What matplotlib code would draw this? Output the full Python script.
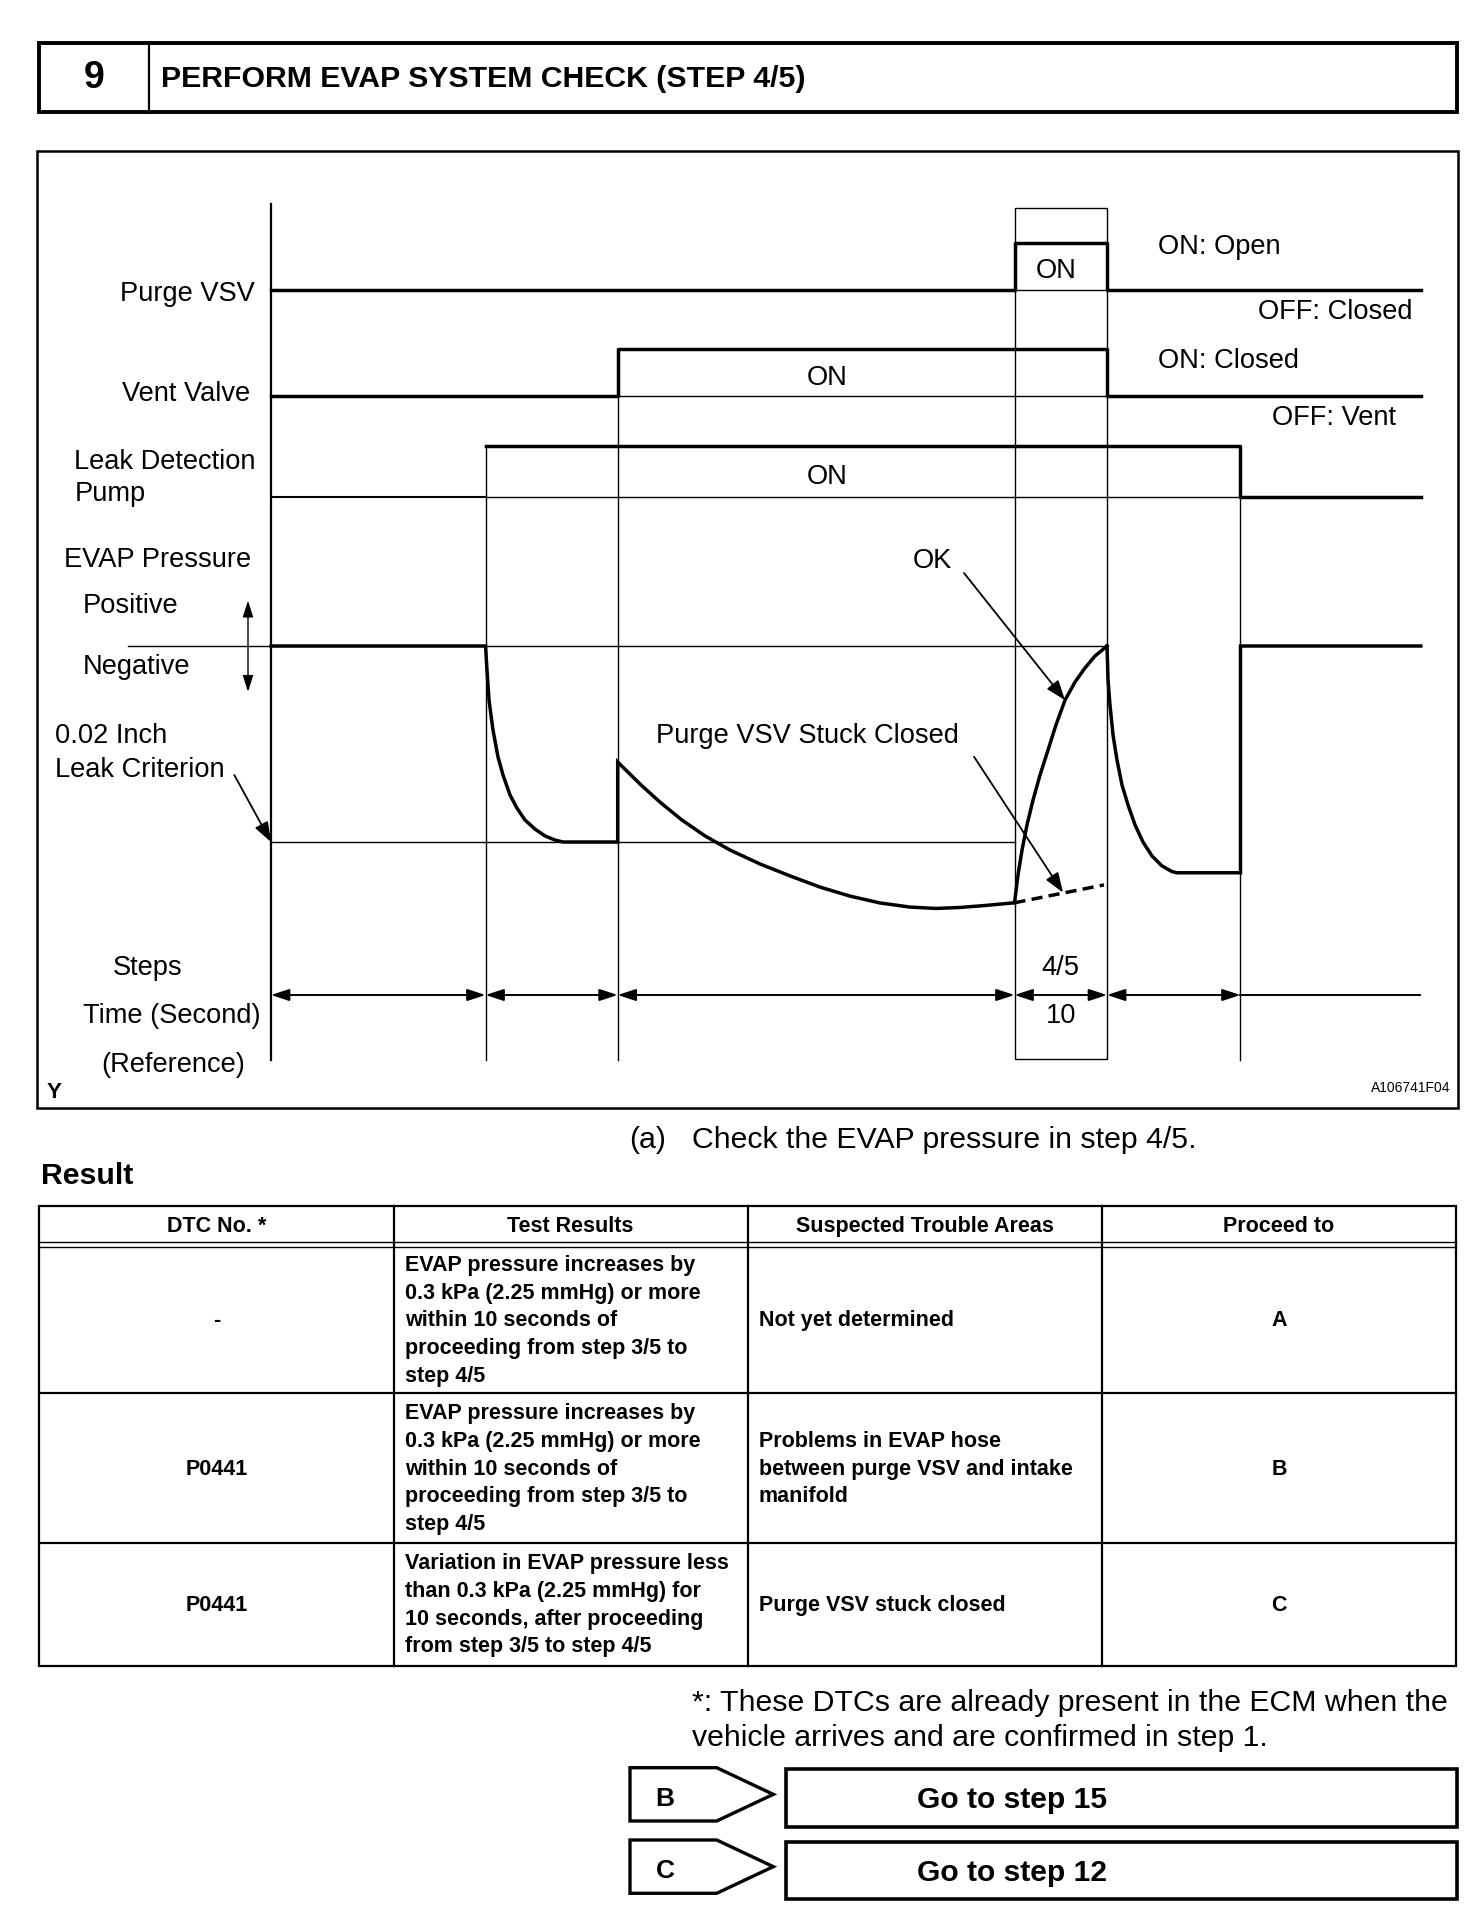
import matplotlib
matplotlib.use('Agg')
import matplotlib.pyplot as plt
from matplotlib.patches import Rectangle, Polygon

plt.rcParams['font.family'] = ['Liberation Sans', 'DejaVu Sans']

# ------------------------------------------------------------------ data
# step boundaries (seconds, reference time axis)
T_PUMP_ON = 23.19
T_VENT_CLOSE = 37.48
T_PURGE_ON = 80.38
T_PURGE_OFF = 90.38
T_PUMP_OFF = 104.81
T_END = 124.3

purge_times = [0, T_PURGE_ON, T_PURGE_OFF, T_END]
purge_states = [0, 1, 0, 0]
vent_times = [0, T_VENT_CLOSE, T_PURGE_OFF, T_END]
vent_states = [0, 1, 0, 0]
pump_times = [0, T_PUMP_ON, T_PUMP_OFF, T_END]
pump_states = [0, 1, 0, 0]

# EVAP pressure (relative units: 0 = atmospheric, -1 = 0.02 inch leak criterion)
evap_t = [0.0, 23.19, 23.35, 23.57, 24.0, 24.54, 25.08, 25.84, 26.59, 27.46, 28.54,
          29.62, 30.70, 31.57, 37.48, 37.48, 40.0, 42.16, 44.43, 46.92, 49.62, 52.86,
          56.11, 59.35, 62.59, 65.84, 69.08, 71.89, 74.49, 77.19, 80.38]
evap_p = [0.0, 0.0, -0.122, -0.276, -0.429, -0.566, -0.658, -0.760, -0.827, -0.888, -0.934,
          -0.969, -0.990, -1.0, -1.0, -0.592, -0.709, -0.801, -0.888, -0.969, -1.041, -1.112,
          -1.173, -1.230, -1.276, -1.311, -1.332, -1.339, -1.334, -1.324, -1.310]
ok_t = [80.38, 80.76, 81.19, 81.73, 82.38, 83.14, 84.0, 84.86, 85.84, 86.92, 88.0, 89.08, 90.38]
ok_p = [-1.310, -1.168, -1.041, -0.913, -0.786, -0.658, -0.531, -0.403, -0.276, -0.184,
        -0.112, -0.051, 0.0]
after_t = [90.38, 90.49, 90.70, 91.03, 91.46, 92.0, 92.65, 93.41, 94.27, 95.24, 96.32,
           97.41, 97.95, 104.81, 104.81, 124.3]
after_p = [0.0, -0.173, -0.301, -0.454, -0.582, -0.709, -0.811, -0.913, -1.0, -1.071,
           -1.122, -1.151, -1.157, -1.157, 0.0, 0.0]
stuck_t = [80.38, 90.05]
stuck_p = [-1.310, -1.219]
LEAK_CRITERION = -1.0

step_label = "4/5"
step_seconds = "10"

headers = ["DTC No. *", "Test Results", "Suspected Trouble Areas", "Proceed to"]
dtc = ["-", "P0441", "P0441"]
test_results = [
    ["EVAP pressure increases by", "0.3 kPa (2.25 mmHg) or more", "within 10 seconds of",
     "proceeding from step 3/5 to", "step 4/5"],
    ["EVAP pressure increases by", "0.3 kPa (2.25 mmHg) or more", "within 10 seconds of",
     "proceeding from step 3/5 to", "step 4/5"],
    ["Variation in EVAP pressure less", "than 0.3 kPa (2.25 mmHg) for",
     "10 seconds, after proceeding", "from step 3/5 to step 4/5"],
]
trouble_areas = [
    ["Not yet determined"],
    ["Problems in EVAP hose", "between purge VSV and intake", "manifold"],
    ["Purge VSV stuck closed"],
]
proceed = ["A", "B", "C"]
go_to = [("B", "Go to step 15"), ("C", "Go to step 12")]

# ------------------------------------------------------------------ layout
W, H = 1472, 1928
fig = plt.figure(figsize=(W / 100, H / 100), dpi=100)
L = fig.add_axes([0, 0, 1, 1])
L.set_xlim(0, W)
L.set_ylim(H, 0)
L.axis('off')

AX_X0 = 271.0
PX_PER_S = 9.25
pos = [AX_X0 / W, 0, T_END * PX_PER_S / W, 1]
ax_t = fig.add_axes(pos)
ax_t.set_xlim(0, T_END)
ax_t.set_ylim(H, 0)
ax_t.axis('off')
ax_t.patch.set_visible(False)

EZ, EU = 646.0, 196.0
ax_e = fig.add_axes(pos)
ax_e.set_xlim(0, T_END)
ax_e.set_ylim((EZ - H) / EU, EZ / EU)
ax_e.axis('off')
ax_e.patch.set_visible(False)

K = 'black'
THICK = 2.5
THIN = 1.0


def txt(x, bl, s, size, ha='left', weight='normal', ax=L):
    ax.text(x, bl, s, fontsize=size, ha=ha, va='baseline', fontweight=weight, color=K)


# header box
L.add_patch(Rectangle((38.5, 42.7), 1457 - 38.5, 111.7 - 42.7, fill=False, lw=2.8, ec=K))
L.plot([148.5, 148.5], [42.7, 111.7], color=K, lw=1.6)
txt(94, 88, "9", 27, ha='center', weight='bold')
txt(161, 87, "PERFORM EVAP SYSTEM CHECK (STEP 4/5)", 21.8, weight='bold')

# diagram frame
L.add_patch(Rectangle((36.9, 150.7), 1458 - 36.9, 1107.7 - 150.7, fill=False, lw=1.8, ec=K))

# digital signals
ROWS = {'purge': (290.0, 243.0), 'vent': (396.0, 349.0), 'pump': (497.0, 446.0)}


def levels(states, row):
    lo, hi = ROWS[row]
    return [lo - s * (lo - hi) for s in states]


ax_t.step(purge_times, levels(purge_states, 'purge'), where='post', color=K, lw=THICK, clip_on=False)
ax_t.step(vent_times, levels(vent_states, 'vent'), where='post', color=K, lw=THICK, clip_on=False)
pl = levels(pump_states, 'pump')
ax_t.plot(pump_times[:2], pl[:1] * 2, color=K, lw=1.5, clip_on=False)
ax_t.step(pump_times[1:], pl[1:], where='post', color=K, lw=THICK, clip_on=False)
# thin baselines while ON
ax_t.plot([T_PURGE_ON, T_PURGE_OFF], [ROWS['purge'][0]] * 2, color=K, lw=THIN)
ax_t.plot([T_VENT_CLOSE, T_PURGE_OFF], [ROWS['vent'][0]] * 2, color=K, lw=THIN)
ax_t.plot([T_PUMP_ON, T_PUMP_OFF], [ROWS['pump'][0]] * 2, color=K, lw=THIN)

# vertical axis and guides
GUIDE_BOTTOM = 1060.0
ax_t.plot([0, 0], [204.3, GUIDE_BOTTOM], color=K, lw=1.6, clip_on=False)
ax_t.plot([T_PUMP_ON] * 2, [ROWS['pump'][1], GUIDE_BOTTOM], color=K, lw=THIN)
ax_t.plot([T_VENT_CLOSE] * 2, [ROWS['vent'][1], GUIDE_BOTTOM], color=K, lw=THIN)
ax_t.plot([T_PUMP_OFF] * 2, [ROWS['pump'][1], GUIDE_BOTTOM], color=K, lw=THIN)
ax_t.add_patch(Rectangle((T_PURGE_ON, 207.9), T_PURGE_OFF - T_PURGE_ON, 1059 - 207.9,
                         fill=False, lw=THIN, ec=K))

# EVAP pressure
ax_e.plot([-15.46, T_PURGE_OFF], [0, 0], color=K, lw=THIN, clip_on=False)
ax_e.plot([0, T_PURGE_ON], [LEAK_CRITERION] * 2, color=K, lw=THIN, clip_on=False)
ax_e.plot(evap_t, evap_p, color=K, lw=THICK, clip_on=False, solid_joinstyle='miter')
ax_e.plot(ok_t, ok_p, color=K, lw=THICK, clip_on=False)
ax_e.plot(after_t, after_p, color=K, lw=THICK, clip_on=False, solid_joinstyle='miter')
ax_e.plot(stuck_t, stuck_p, color=K, lw=THICK, ls=(0, (3.2, 1.8)), clip_on=False)

# time dimension line
TIME_Y = 995.0
bounds = [0, T_PUMP_ON, T_VENT_CLOSE, T_PURGE_ON, T_PURGE_OFF, T_PUMP_OFF]
for a, b in zip(bounds[:-1], bounds[1:]):
    ax_t.annotate('', xy=(b, TIME_Y), xytext=(a, TIME_Y),
                  arrowprops=dict(arrowstyle='<|-|>,head_length=0.55,head_width=0.18',
                                  mutation_scale=20, shrinkA=0, shrinkB=0, lw=1.4, color=K,
                                  fc=K))
ax_t.plot([T_PUMP_OFF, T_END], [TIME_Y] * 2, color=K, lw=1.4)

# annotation arrows
arr = dict(arrowstyle='-|>,head_length=0.6,head_width=0.22', mutation_scale=20,
           shrinkA=0, shrinkB=0, lw=1.3, color=K, fc=K)
ax_e.annotate('', xy=(85.84, -0.276), xycoords='data', xytext=(964, 573),
              textcoords=L.transData, arrowprops=arr)
ax_e.annotate('', xy=(85.62, -1.258), xycoords='data', xytext=(974, 756.7),
              textcoords=L.transData, arrowprops=arr)
ax_e.annotate('', xy=(0, LEAK_CRITERION), xycoords='data', xytext=(234.3, 775),
              textcoords=L.transData, arrowprops=arr)
L.annotate('', xy=(248, 600.7), xytext=(248, 691.8),
           arrowprops=dict(arrowstyle='<|-|>,head_length=0.5,head_width=0.16', mutation_scale=20,
                           shrinkA=0, shrinkB=0, lw=1.0, color=K, fc=K))

# diagram labels
FS = 19.6
txt(255, 300.7, "Purge VSV", FS, ha='right')
txt(250.4, 400.7, "Vent Valve", FS, ha='right')
txt(74.5, 469.3, "Leak Detection", FS)
txt(74.5, 501.4, "Pump", FS)
txt(64.4, 566.8, "EVAP Pressure", FS)
txt(82.8, 613.0, "Positive", FS)
txt(82.8, 673.5, "Negative", FS)
txt(55.2, 743.3, "0.02 Inch", FS)
txt(55.2, 777.3, "Leak Criterion", FS)
txt(112.6, 975.0, "Steps", FS)
txt(82.8, 1023.3, "Time (Second)", FS)
txt(101.0, 1071.7, "(Reference)", FS)
txt(47.0, 1097.5, "Y", 16, weight='bold')
txt(1056.0, 277.5, "ON", FS, ha='center')
txt(1157.8, 253.6, "ON: Open", FS)
txt(1412.0, 318.6, "OFF: Closed", FS, ha='right')
txt(1157.8, 367.5, "ON: Closed", FS)
txt(1396.0, 424.6, "OFF: Vent", FS, ha='right')
txt(827.5, 384.6, "ON", FS, ha='center')
txt(827.5, 483.6, "ON", FS, ha='center')
txt(932.5, 567.5, "OK", FS, ha='center')
txt(958.5, 742.7, "Purge VSV Stuck Closed", FS, ha='right')
txt(1060.5, 975.0, step_label, FS, ha='center')
txt(1061.0, 1023.3, step_seconds, FS, ha='center')
txt(1450.5, 1091.7, "A106741F04", 10, ha='right')

# text under the diagram
txt(629.6, 1148, "(a)", 21.8)
txt(692.3, 1148, "Check the EVAP pressure in step 4/5.", 21.8)
txt(41.0, 1184, "Result", 21.8, weight='bold')

# table
cols = [39.4, 393.5, 747.7, 1101.8, 1456.0]
y_top, y_h1, y_h2 = 1206.0, 1242.0, 1247.0
row_bounds = [1247.0, 1393.3, 1543.3, 1666.0]
TLW = 1.6
L.add_patch(Rectangle((cols[0], y_top), cols[-1] - cols[0], row_bounds[-1] - y_top,
                      fill=False, lw=TLW, ec=K))
for x in cols[1:-1]:
    L.plot([x, x], [y_top, row_bounds[-1]], color=K, lw=TLW)
L.plot([cols[0], cols[-1]], [y_h1, y_h1], color=K, lw=1.0)
L.plot([cols[0], cols[-1]], [y_h2, y_h2], color=K, lw=1.0)
for y in row_bounds[1:-1]:
    L.plot([cols[0], cols[-1]], [y, y], color=K, lw=TLW)

TFS = 15.5
HALF_CAP = 0.358 * TFS * 100 / 72
LS = 27.6
for i, h in enumerate(headers):
    txt((cols[i] + cols[i + 1]) / 2, (y_top + y_h1) / 2 + HALF_CAP, h, TFS, ha='center', weight='bold')


def block(x, ymid, lines, ha='left'):
    n = len(lines)
    for k, s in enumerate(lines):
        yc = ymid + (k - (n - 1) / 2) * LS
        txt(x, yc + HALF_CAP, s, TFS, ha=ha, weight='bold')


for r in range(3):
    ymid = (row_bounds[r] + row_bounds[r + 1]) / 2 - 1.5
    block((cols[0] + cols[1]) / 2, ymid, [dtc[r]], ha='center')
    block(404.6, ymid, test_results[r])
    block(758.7, ymid, trouble_areas[r])
    block((cols[3] + cols[4]) / 2, ymid, [proceed[r]], ha='center')

# note
txt(692.3, 1711, "*: These DTCs are already present in the ECM when the", 21.8)
txt(692.3, 1746, "vehicle arrives and are confirmed in step 1.", 21.8)

# go-to boxes
tag_rows = [(1767.7, 1821.0, 1769.0, 1826.7), (1840.0, 1893.3, 1842.3, 1899.0)]
for (letter, msg), (t0, t1, b0, b1) in zip(go_to, tag_rows):
    ym = (t0 + t1) / 2
    L.add_patch(Polygon([(630, t0), (716.7, t0), (773.3, ym), (716.7, t1), (630, t1)],
                        closed=True, fill=False, lw=2.4, ec=K, joinstyle='miter'))
    L.add_patch(Rectangle((786, b0), 1457 - 786, b1 - b0, fill=False, lw=2.6, ec=K))
    txt(665, ym + 11.5, letter, 19, ha='center', weight='bold')
    txt(917.4, (b0 + b1) / 2 + 10.0, msg, 21.6, weight='bold')

fig.savefig('out.png', dpi=100)
